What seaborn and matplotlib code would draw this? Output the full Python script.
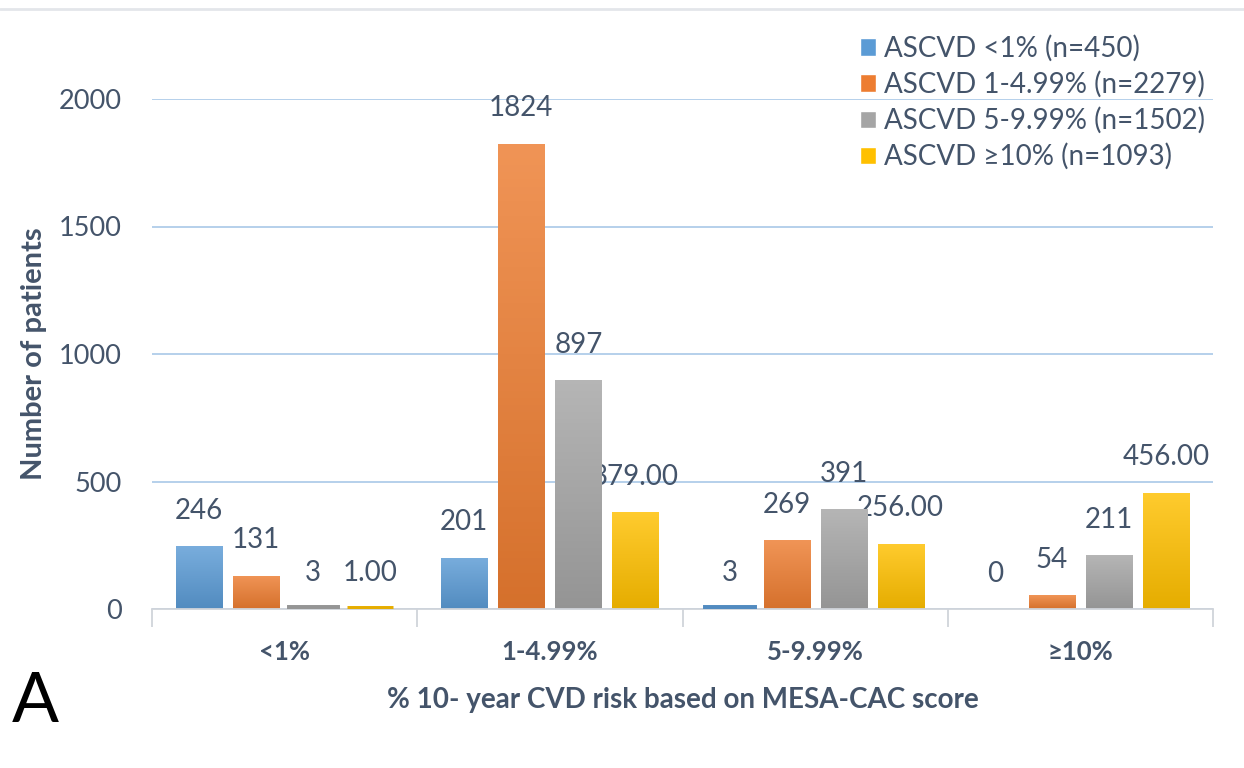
import numpy as np
import pandas as pd
import matplotlib
matplotlib.use("Agg")
import matplotlib.pyplot as plt
from matplotlib.colors import to_rgb
from matplotlib.lines import Line2D
import seaborn as sns

# Data: patients by MESA-CAC risk category, split by ASCVD risk group
categories = ["<1%", "1-4.99%", "5-9.99%", "≥10%"]
series = ["ASCVD <1% (n=450)", "ASCVD 1-4.99% (n=2279)",
          "ASCVD 5-9.99% (n=1502)", "ASCVD ≥10% (n=1093)"]
ascvd_lt1 = [246, 201, 3, 0]
ascvd_1_5 = [131, 1824, 269, 54]
ascvd_5_10 = [3, 897, 391, 211]
ascvd_ge10 = [1, 379, 256, 456]
label_formats = ["{:.0f}", "{:.0f}", "{:.0f}", "{:.2f}"]
y_ticks = [0, 500, 1000, 1500, 2000]

colors = ["#5B9BD5", "#ED7D31", "#A5A5A5", "#FFC000"]
text_color = "#44546A"

values = [ascvd_lt1, ascvd_1_5, ascvd_5_10, ascvd_ge10]
df = pd.DataFrame({
    "risk": categories * len(series),
    "ascvd": np.repeat(series, len(categories)),
    "count": np.concatenate(values),
})

sns.set_theme(style="white")
plt.rcParams["font.family"] = ["Lato", "DejaVu Sans"]

fig = plt.figure(figsize=(12.44, 7.68), dpi=100)
ax = fig.add_axes([152 / 1244, 1 - 609 / 768, (1213 - 152) / 1244, (609 - 99) / 768])

sns.barplot(data=df, x="risk", y="count", hue="ascvd", order=categories,
            hue_order=series, palette=colors, width=0.86, gap=0.19,
            saturation=1, legend=True, ax=ax, zorder=3)


def shade(c, f):
    r = np.array(to_rgb(c))
    return np.clip(r * f, 0, 1) if f < 1 else r + (1 - r) * (f - 1)


# vertical gradient fill for each bar, lighter at the top
for container, col, fmt, vals in zip(ax.containers, colors, label_formats, values):
    top = shade(col, 1.18)
    bot = shade(col, 0.9)
    grad = np.linspace(0, 1, 64)[:, None, None]
    img = top[None, None, :] * (1 - grad) + bot[None, None, :] * grad
    for bar, v in zip(container, vals):
        x0, w, h = bar.get_x(), bar.get_width(), bar.get_height()
        if h > 0:
            if h < 20:
                # very short bars are shown as a thin solid strip
                bar.set_facecolor(bot)
                bar.set_edgecolor(bot)
                bar.set_linewidth(5)
                bar.set_zorder(5)
            else:
                bar.set_linewidth(0)
                im = ax.imshow(img, extent=(x0, x0 + w, 0, h), origin="upper",
                               aspect="auto", zorder=3.5)
                im.set_clip_path(bar)
        ax.text(x0 + w / 2, h + 88, fmt.format(v), ha="center", va="bottom",
                fontsize=20, color=text_color)

ax.set_xlim(-0.5, 3.5)
ax.set_ylim(0, 2000)
ax.set_yticks(y_ticks)
ax.yaxis.grid(True, color="#A9C8E8", linewidth=1.2, zorder=0)
ax.xaxis.grid(False)
for s in ["top", "right", "left"]:
    ax.spines[s].set_visible(False)
ax.spines["bottom"].set_color("#D0D4DA")
ax.spines["bottom"].set_linewidth(1.3)
ax.spines["bottom"].set_zorder(4)

# category separators below the axis
ax.set_xticks([-0.5, 0.5, 1.5, 2.5, 3.5], minor=True)
ax.tick_params(axis="x", which="minor", length=13, width=1.3, color="#D0D4DA",
               bottom=True)
ax.tick_params(axis="x", which="major", length=0, pad=22)
ax.tick_params(axis="y", length=0, pad=22)
ax.set_xticks(range(len(categories)))
ax.set_xticklabels(categories, fontsize=18.5, fontweight="bold", color=text_color)
for t in ax.get_yticklabels():
    t.set_fontsize(19.5)
    t.set_color(text_color)

ax.set_xlabel("% 10- year CVD risk based on MESA-CAC score", fontsize=20,
              fontweight="bold", color=text_color, labelpad=17)
ax.set_ylabel("Number of patients", fontsize=21, fontweight="bold",
              color=text_color, labelpad=8)

leg = ax.legend(loc="upper left", bbox_to_anchor=(860 / 1244, 1 - 35 / 768),
                bbox_transform=fig.transFigure, frameon=False, fontsize=20,
                handlelength=0.58, handleheight=0.58, handletextpad=0.3,
                labelspacing=0.33, borderpad=0, borderaxespad=0)
for t in leg.get_texts():
    t.set_color(text_color)

fig.text(12 / 1244, 1 - 703 / 768, "A", fontsize=50, color="black",
         ha="left", va="center", family=["Liberation Sans Narrow", "Lato"])
fig.add_artist(Line2D([0, 1], [1 - 9 / 768, 1 - 9 / 768], color="#E3E6EA",
                      linewidth=2, transform=fig.transFigure))

fig.savefig("out.png", dpi=100)
